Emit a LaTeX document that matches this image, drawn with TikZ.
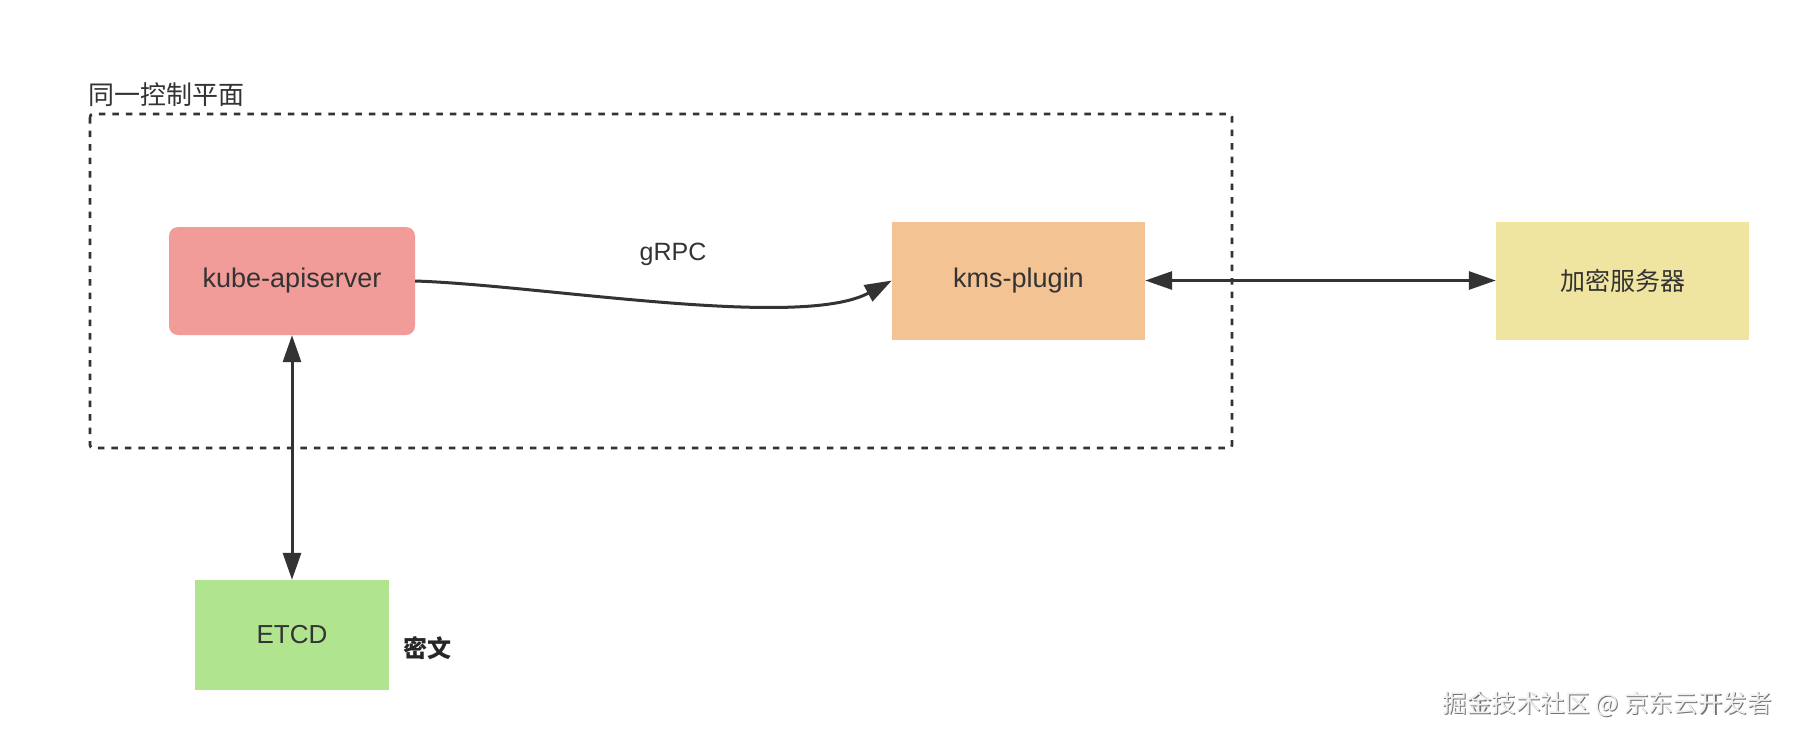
\documentclass[tikz,border=0pt]{standalone}
\usepackage{fontspec}
\setmainfont{Liberation Sans}
\newfontfamily\cjk{Noto Sans CJK SC}
\usetikzlibrary{arrows.meta}
\definecolor{txt}{HTML}{333333}
\definecolor{kubec}{HTML}{F19C99}
\definecolor{kmsc}{HTML}{F4C393}
\definecolor{cryc}{HTML}{F0E5A0}
\definecolor{etcdc}{HTML}{B0E48F}
\tikzset{
  box/.style={inner sep=0pt, text=txt, font=\fontsize{27}{32}\selectfont},
  conn/.style={draw=txt, line width=3pt, -{Triangle[length=27pt,width=18pt]}},
  biconn/.style={draw=txt, line width=3pt, {Triangle[length=27pt,width=18pt]}-{Triangle[length=27pt,width=18pt]}},
  group/.style={draw=txt, line width=2.7pt, dash pattern=on 6.5pt off 7pt, rounded corners=3pt},
}
\begin{document}
\begin{tikzpicture}[x=1pt,y=-1pt]
\useasboundingbox[fill=white] (0,0) rectangle (1798,740);
% group frame
\draw[group] (90,114) rectangle (1232,448);
\node[box, anchor=west, font=\cjk\fontsize{26}{30}\selectfont] (title) at (88,95) {同一控制平面};
% nodes
\node[box, fill=kubec, rounded corners=9pt, minimum width=246pt, minimum height=108pt] (kube) at (292,281) {kube-apiserver};
\node[box, fill=kmsc, minimum width=253pt, minimum height=118pt] (kms) at (1018.5,280.5) {kms-plugin};
\node[box, fill=cryc, minimum width=253pt, minimum height=118pt, font=\cjk\fontsize{25}{30}\selectfont] (cry) at (1622.5,280.5) {加密服务器};
\node[box, fill=etcdc, minimum width=194pt, minimum height=110pt, font=\fontsize{26}{30}\selectfont] (etcd) at (292,635) {ETCD};
\node[box, font=\cjk\bfseries\fontsize{24}{28}\selectfont, text=black!85] (cipher) at (427,648) {密文};
\node[box, anchor=base, font=\fontsize{25}{30}\selectfont] (grpc) at (673,260) {gRPC};
% connectors
\draw[conn] (kube.east) .. controls (540,285) and (800,330) .. (kms.west);
\draw[biconn] (kms.east) -- (cry.west);
\draw[biconn] (kube.south) -- (etcd.north);
% watermark
\node[box, font=\cjk\fontsize{24.6}{28}\selectfont, text=black!55] (wms) at (1608.2,705.2) {掘金技术社区 @ 京东云开发者};
\node[box, font=\cjk\fontsize{24.6}{28}\selectfont, text=black!6] (wm) at (1607,704) {掘金技术社区 @ 京东云开发者};
\end{tikzpicture}
\end{document}
